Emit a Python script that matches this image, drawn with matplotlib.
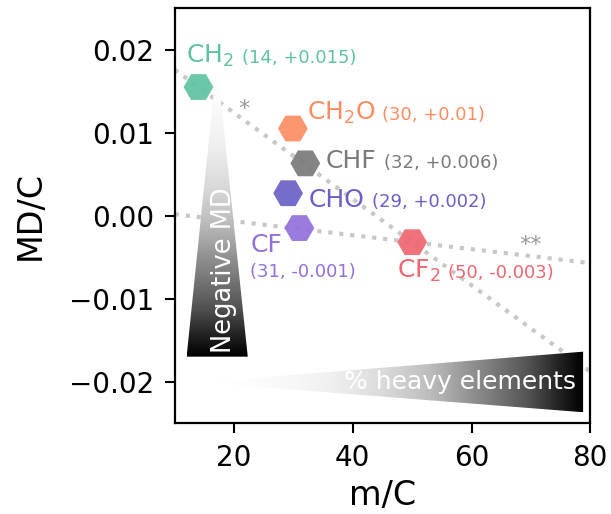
import numpy as np
import matplotlib
matplotlib.use("Agg")
import matplotlib.pyplot as plt
from matplotlib.patches import Polygon

# fragments: mass per carbon, mass defect per carbon
names = ["CH$_2$", "CH$_2$O", "CHF", "CHO", "CF", "CF$_2$"]
coord_labels = ["(14, +0.015)", "(30, +0.01)", "(32, +0.006)",
                "(29, +0.002)", "(31, -0.001)", "(50, -0.003)"]
m_per_c = [14.0, 29.9, 32.0, 29.1, 31.0, 50.0]
md_per_c = [0.0155, 0.0105, 0.0063, 0.0027, -0.0015, -0.0032]
colors = ["#5fc3a3", "#fc8d62", "#7a7a7a", "#6a5fc8", "#9370db", "#ee6670"]

# dotted trend lines: CH2 -> CHF -> CF2 and C -> CF -> CF2
line_a_x = [14.0, 50.0]
line_a_y = [0.0155, -0.0032]
line_b_x = [12.0, 50.0]
line_b_y = [0.0, -0.0032]

fig = plt.figure(figsize=(6.11, 5.14), dpi=100)
ax = fig.add_axes([0.286, 0.177, 0.68, 0.807])
xlim = (10, 80)
ylim = (-0.025, 0.025)

xs = np.array(xlim, dtype=float)
for lx, ly in [(line_a_x, line_a_y), (line_b_x, line_b_y)]:
    k = (ly[1] - ly[0]) / (lx[1] - lx[0])
    ax.plot(xs, ly[0] + k * (xs - lx[0]), ls=":", lw=3, color="#c8c8c8", zorder=1)

# gradient triangles
def gradient_triangle(verts, vertical, power):
    g = np.linspace(0, 1, 256) ** power
    if vertical:
        img = g[:, None] * np.ones((1, 2))
    else:
        img = np.ones((2, 1)) * g[None, :]
    vx = [v[0] for v in verts]
    vy = [v[1] for v in verts]
    im = ax.imshow(img, cmap="Greys", origin="lower" if not vertical else "upper",
                   extent=(min(vx), max(vx), min(vy), max(vy)),
                   aspect="auto", zorder=2, vmin=0, vmax=1)
    poly = Polygon(verts, closed=True, facecolor="none", edgecolor="none")
    ax.add_patch(poly)
    im.set_clip_path(poly)

gradient_triangle([(17.1, 0.0185), (12.0, -0.017), (22.3, -0.017)], True, 1.6)
gradient_triangle([(14.2, -0.0201), (78.8, -0.0164), (78.8, -0.0237)], False, 1.9)

ax.text(18.3, -0.0165, "Negative MD", rotation=90, color="white", fontsize=18.5,
        ha="center", va="bottom", zorder=3)
ax.text(77.6, -0.0201, "% heavy elements", color="white", fontsize=18,
        ha="right", va="center", zorder=3)

ax.scatter(m_per_c, md_per_c, marker="H", s=460, c=colors, alpha=0.92,
           edgecolors="none", zorder=4)

# label placement (name position, coordinate-label position)
name_pos = [(11.9, 0.0184), (32.3, 0.0115), (35.4, 0.0057),
            (32.5, 0.0010), (22.7, -0.0044), (47.4, -0.0075)]
coord_pos = [(21.3, 0.0184), (45.0, 0.0115), (45.2, 0.0057),
             (43.3, 0.0010), (22.7, -0.0074), (56.0, -0.0075)]
for i in range(len(names)):
    ax.text(*name_pos[i], names[i], color=colors[i], fontsize=18,
            ha="left", va="baseline", zorder=5)
    ax.text(*coord_pos[i], coord_labels[i], color=colors[i], fontsize=13,
            ha="left", va="baseline", zorder=5)

ax.text(21.7, 0.0128, "*", color="#999999", fontsize=16, ha="center", va="center")
ax.text(70.0, -0.0035, "**", color="#999999", fontsize=16, ha="center", va="center")

ax.set_xlim(*xlim)
ax.set_ylim(*ylim)
ax.set_xticks([20, 40, 60, 80])
ax.set_yticks([-0.02, -0.01, 0.0, 0.01, 0.02])
ax.set_yticklabels(["\u22120.02", "\u22120.01", "0.00", "0.01", "0.02"])
ax.tick_params(labelsize=20, width=1.5, length=7)
ax.tick_params(axis="x", pad=8)
ax.tick_params(axis="y", pad=8)
for s in ax.spines.values():
    s.set_linewidth(1.6)
ax.set_xlabel("m/C", fontsize=24, labelpad=5)
ax.set_ylabel("MD/C", fontsize=24, labelpad=16)

fig.savefig("out.png", dpi=100)
